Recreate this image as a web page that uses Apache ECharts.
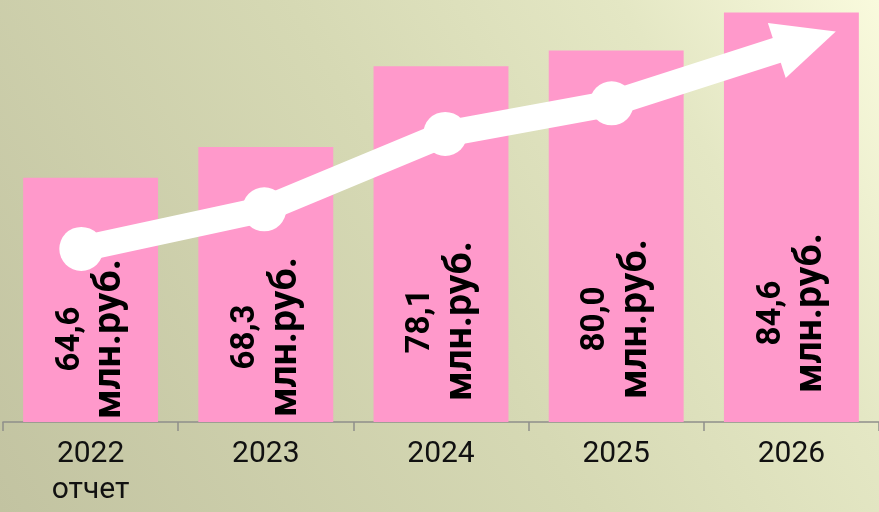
<!DOCTYPE html>
<html>
<head>
<meta charset="utf-8">
<script src="https://cdn.jsdelivr.net/npm/echarts@6/dist/echarts.min.js"></script>
<style>
  html, body { margin: 0; padding: 0; }
  #chart { width: 879px; height: 512px; }
</style>
</head>
<body>
<div id="chart"></div>
<script>
// ---- data ----
const categories = ['2022\nотчет', '2023', '2024', '2025', '2026'];
const values = [64.6, 68.3, 78.1, 80.0, 84.6];
const unitText = 'млн.руб.';
// decorative trend arrow (positions on a hidden 0..5 x scale, value scale on y)
const trendX = [0.447, 1.491, 2.524, 3.474, 4.585];
const trendY = [55.97, 60.76, 69.9, 73.6, 81.16];

// ---- layout/style constants ----
const labelLift = [83, 85, 101, 103, 109];
const FONT = 'Roboto, "Noto Sans", sans-serif';

const chart = echarts.init(document.getElementById('chart'), null, { renderer: 'canvas' });

const barData = values.map((v, i) => ({
  value: v,
  label: { distance: labelLift[i] }
}));

const trendData = trendX.map((x, i) => {
  const item = { value: [x, trendY[i]] };
  if (i === trendX.length - 1) {
    item.symbol = 'triangle';
    item.symbolSize = [58, 62];
    item.symbolRotate = -72.1;
  }
  return item;
});

chart.setOption({
  animation: false,
  backgroundColor: new echarts.graphic.LinearGradient(0, 1, 1, 0, [
    { offset: 0, color: '#c2c3a1' },
    { offset: 0.5, color: '#d6d9b4' },
    { offset: 0.78, color: '#e4e7c4' },
    { offset: 1, color: '#f9fadd' }
  ]),
  grid: { left: 3, right: -4, top: 1, bottom: 90, containLabel: false },
  xAxis: [
    {
      type: 'category',
      data: categories,
      axisLine: { show: true, lineStyle: { color: '#8e8e8a', width: 1.5 } },
      axisTick: { show: true, length: 9, lineStyle: { color: '#8e8e8a', width: 1.5 } },
      axisLabel: {
        color: '#111',
        fontFamily: FONT,
        fontSize: 30,
        lineHeight: 36,
        margin: 14
      }
    },
    {
      type: 'value',
      min: 0,
      max: 5,
      show: false
    }
  ],
  yAxis: {
    type: 'value',
    min: 35,
    max: 86,
    show: false,
    splitLine: { show: false }
  },
  series: [
    {
      type: 'bar',
      data: barData,
      barWidth: '77%',
      itemStyle: { color: '#ff99cb' },
      label: {
        show: true,
        position: 'insideBottom',
        rotate: 90,
        align: 'center',
        verticalAlign: 'middle',
        color: '#000',
        formatter: p => '{n|' + p.value.toFixed(1).replace('.', ',') + '}\n{u|' + unitText + '}',
        rich: {
          n: { fontFamily: FONT, fontWeight: 'bold', fontSize: 33, lineHeight: 40, color: '#000' },
          u: { fontFamily: FONT, fontWeight: 'bold', fontSize: 39, lineHeight: 40, color: '#000' }
        }
      }
    },
    {
      type: 'line',
      xAxisIndex: 1,
      yAxisIndex: 0,
      data: trendData,
      symbol: 'circle',
      symbolSize: 44,
      showSymbol: true,
      lineStyle: { color: '#ffffff', width: 26 },
      itemStyle: { color: '#ffffff', borderWidth: 0 },
      z: 5,
      silent: true
    }
  ]
});
</script>
</body>
</html>
